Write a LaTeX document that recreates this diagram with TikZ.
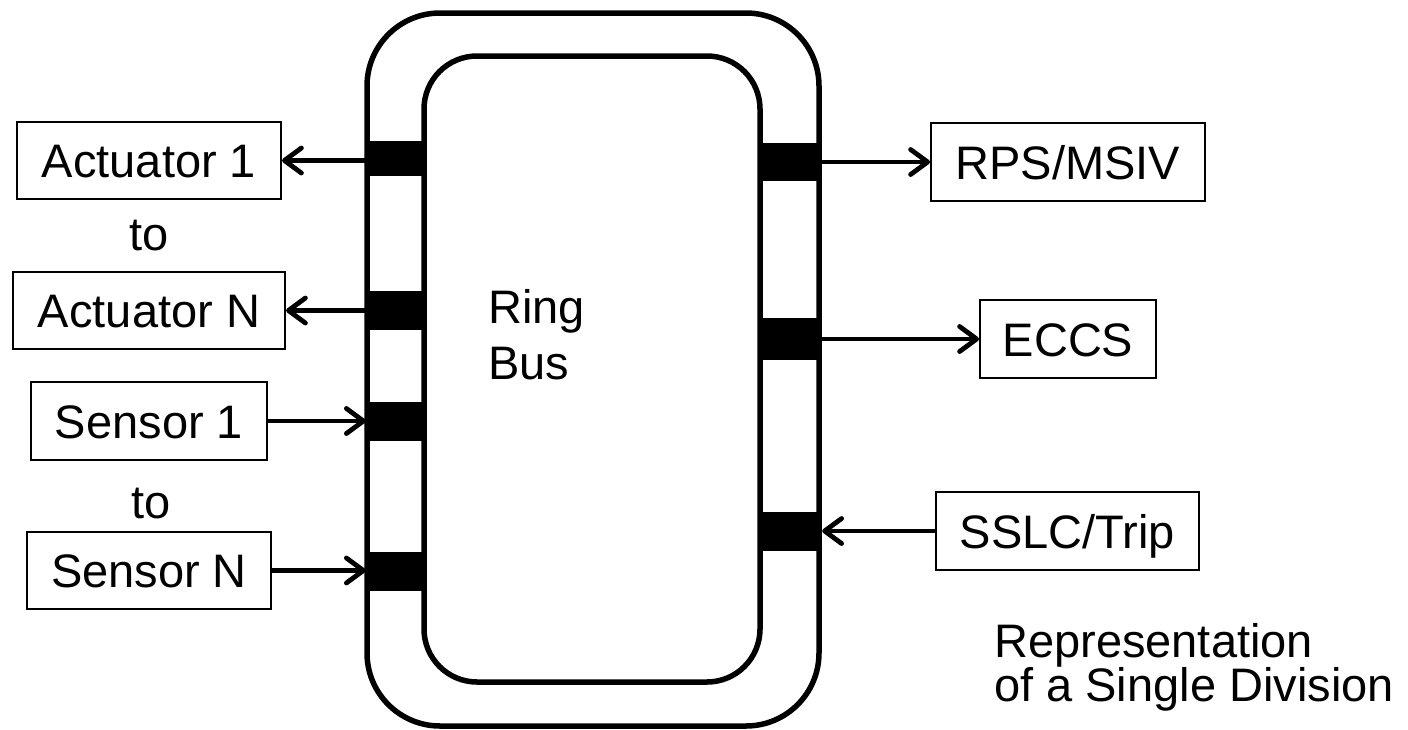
\documentclass[tikz,border=0pt]{standalone}
\usepackage{fontspec}
\setmainfont{Liberation Sans}
\usetikzlibrary{arrows.meta}
\begin{document}
\begin{tikzpicture}[x=1pt,y=-1pt,
  ring/.style={line width=5.5pt},
  port/.style={fill=black,draw=none,inner sep=0pt,minimum width=59pt},
  unit/.style={draw,line width=2pt,inner sep=0pt,minimum height=77pt,
    text height=34pt,text depth=0pt,font=\fontsize{47}{56}\selectfont},
  lbl/.style={inner sep=0pt,font=\fontsize{47}{56}\selectfont},
  arr/.style={line width=4.8pt,-{Straight Barb[length=17pt,width=25pt,line cap=round,line join=round]}}]
\useasboundingbox (0,0) rectangle (1408,729);
% ring bus
\draw[ring,rounded corners=73pt] (367,13) rectangle (819,726);
\draw[ring,rounded corners=53pt] (424,56) rectangle (760,682);
% ports
\node[port,minimum height=35pt] (pa1) at (395.5,158.5) {};
\node[port,minimum height=39pt] (pan) at (395.5,310.5) {};
\node[port,minimum height=39pt] (ps1) at (395.5,421.5) {};
\node[port,minimum height=39pt,minimum width=61pt] (psn) at (396.5,571.5) {};
\node[port,minimum height=38pt,minimum width=60pt] (prps) at (792,162) {};
\node[port,minimum height=42pt,minimum width=60pt] (peccs) at (792,339) {};
\node[port,minimum height=39pt,minimum width=60pt] (psslc) at (792,531.5) {};
% units
\node[unit,minimum width=264pt] (a1) at (149,160.5) {Actuator 1};
\node[unit,minimum width=272pt] (an) at (149,310.5) {Actuator N};
\node[unit,minimum width=236pt,minimum height=78pt] (s1) at (149,421) {Sensor 1};
\node[unit,minimum width=244pt] (sn) at (149,570.5) {Sensor N};
\node[unit,minimum width=274pt,minimum height=78pt] (rps) at (1068,162) {RPS/MSIV};
\node[unit,minimum width=176pt,minimum height=78pt] (eccs) at (1068,339) {ECCS};
\node[unit,minimum width=263pt,minimum height=78pt] (sslc) at (1067.5,531) {SSLC/Trip};
% labels
\node[lbl,anchor=base] (to1) at (149,250) {to};
\node[lbl,anchor=base] (to2) at (151,518) {to};
\node[lbl,anchor=base west,align=left] (rb) at (488,379) {Ring\\Bus};
\node[lbl,anchor=base west,align=left,font=\fontsize{47}{44}\selectfont] (rep) at (994,701) {Representation\\of a Single Division};
% connectors
\draw[arr] (a1.east -| pa1.west) -- (a1.east);
\draw[arr] (an.east -| pan.west) -- (an.east);
\draw[arr] (s1.east) -- (s1.east -| ps1.west);
\draw[arr] (sn.east) -- (sn.east -| psn.west);
\draw[arr] (rps.west -| prps.east) -- (rps.west);
\draw[arr] (eccs.west -| peccs.east) -- (eccs.west);
\draw[arr] (sslc.west) -- (sslc.west -| psslc.east);
\end{tikzpicture}
\end{document}
